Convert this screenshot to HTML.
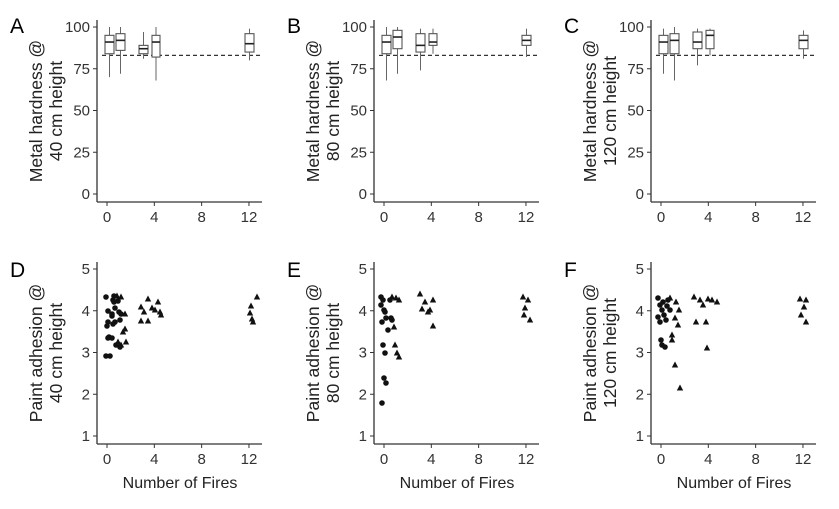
<!DOCTYPE html>
<html><head><meta charset="utf-8"><style>
body{margin:0;background:#fff}
svg{display:block;font-family:"Liberation Sans",Arial,sans-serif}
</style></head><body>
<svg id="s" width="839" height="509" xmlns="http://www.w3.org/2000/svg"></svg>
<script>
const s=document.getElementById('s');let h='';
const X=v=>107+v*11.83;
const Yt=v=>194-v*1.67;
const Yb=v=>436-(v-1)*41.75;
const boxX=[[105,114],[116,125],[139,148],[152,160],[245,254]];
const boxes=[
[[70,100,84,95,91],[72,100,86,96,92],[81,97,84,89,87],[68,100,82,95,91],[80,99,85,96,90]],
[[68,100,84,95,91],[72,100,87,98,94],[74,99,85,96,89],[84,99,89,96,91],[82,99,89,95,92]],
[[72,99,84,95,91],[68,100,84,96,92],[77,99,87,97,91],[83,99,87,98,95],[81,98,87,95,92]]];
const letters=['A','B','C'],lettersB=['D','E','F'],hts=['40','80','120'];
function axes(o,top){
 const ya=top?20:262, yb=top?202:444;
 h+=`<line x1="${97+o}" y1="${ya}" x2="${97+o}" y2="${yb}" stroke="#333" stroke-width="1.3"/>`;
 h+=`<line x1="${97+o}" y1="${yb}" x2="${262+o}" y2="${yb}" stroke="#333" stroke-width="1.3"/>`;
 [0,4,8,12].forEach(v=>{h+=`<line x1="${X(v)+o}" y1="${yb}" x2="${X(v)+o}" y2="${yb+4}" stroke="#333"/><text x="${X(v)+o}" y="${yb+20}" font-size="15" fill="#333" text-anchor="middle">${v}</text>`;});
 const ticks=top?[0,25,50,75,100]:[1,2,3,4,5];
 ticks.forEach(v=>{const y=top?Yt(v):Yb(v);h+=`<line x1="${93+o}" y1="${y}" x2="${97+o}" y2="${y}" stroke="#333"/><text x="${90+o}" y="${y+5}" font-size="15" fill="#333" text-anchor="end">${v}</text>`;});
}
for(let p=0;p<3;p++){
 const o=p*277;
 axes(o,true);axes(o,false);
 h+=`<text x="${10+o}" y="33" font-size="21">${letters[p]}</text><text x="${10+o}" y="277" font-size="21">${lettersB[p]}</text>`;
 h+=`<text transform="translate(${42+o},111) rotate(-90)" font-size="17.5" fill="#222" text-anchor="middle">Metal hardness @</text>`;
 h+=`<text transform="translate(${62+o},111) rotate(-90)" font-size="17.5" fill="#222" text-anchor="middle">${hts[p]} cm height</text>`;
 h+=`<text transform="translate(${42+o},353) rotate(-90)" font-size="17.5" fill="#222" text-anchor="middle">Paint adhesion @</text>`;
 h+=`<text transform="translate(${62+o},353) rotate(-90)" font-size="17.5" fill="#222" text-anchor="middle">${hts[p]} cm height</text>`;
 h+=`<text x="${180+o}" y="488" font-size="16" fill="#222" text-anchor="middle">Number of Fires</text>`;
 h+=`<line x1="${102+o}" y1="55.4" x2="${262+o}" y2="55.4" stroke="#333" stroke-dasharray="4,3" stroke-width="1.2"/>`;
 boxes[p].forEach((b,i)=>{const [a,c]=boxX[i];const m=(a+c)/2+o;
  h+=`<line x1="${m}" y1="${Yt(b[0])}" x2="${m}" y2="${Yt(b[1])}" stroke="#666"/>`;
  h+=`<rect x="${a+o}" y="${Yt(b[3])}" width="${c-a}" height="${Yt(b[2])-Yt(b[3])}" fill="#fff" stroke="#555" stroke-width="1.1"/>`;
  h+=`<line x1="${a+o}" y1="${Yt(b[4])}" x2="${c+o}" y2="${Yt(b[4])}" stroke="#222" stroke-width="1.6"/>`;});
}
const pts=[
{c:[[106,297],[108,311],[108,322],[107,326],[109,337],[108,338],[110,356],[106,356],[112,338],[113,324],[112,316],[112,314],[114,296],[115,308],[115,322],[116,345],[119,312],[120,320],[120,347],[121,314],[118,301],[113,300],[114,302]],
 t:[[117,296],[121,297],[125,314],[118,342],[121,345],[123,332],[126,342],[125,329],[141,307],[144,312],[141,321],[148,299],[148,321],[152,308],[158,302],[155,310],[160,312],[161,315],[251,306],[250,313],[257,297],[252,319],[253,322]]},
{c:[[381,297],[383,300],[381,305],[384,310],[386,318],[382,322],[385,312],[383,345],[385,353],[388,330],[384,378],[386,383],[382,403],[390,300],[391,318],[392,320]],
 t:[[392,297],[396,298],[399,300],[395,345],[397,353],[399,357],[394,327],[420,294],[425,302],[428,312],[422,309],[430,310],[433,300],[433,326],[523,297],[528,300],[524,315],[525,308],[530,320]]},
{c:[[658,298],[660,305],[662,310],[664,315],[658,317],[660,322],[666,320],[662,345],[665,347],[661,340],[668,300],[670,310],[663,302],[667,306]],
 t:[[670,298],[676,302],[679,310],[675,318],[678,325],[672,335],[672,340],[675,365],[680,388],[694,297],[700,300],[703,305],[696,322],[706,322],[708,299],[712,300],[707,348],[717,302],[800,299],[806,300],[804,307],[801,315],[806,322]]}];
pts.forEach(P=>{P.c.forEach(([x,y])=>h+=`<circle cx="${x}" cy="${y}" r="2.8" fill="#111"/>`);
 P.t.forEach(([x,y])=>h+=`<polygon points="${x},${y-3.5} ${x-3.2},${y+2.5} ${x+3.2},${y+2.5}" fill="#111"/>`);});
s.innerHTML=h;
</script>
</body></html>
